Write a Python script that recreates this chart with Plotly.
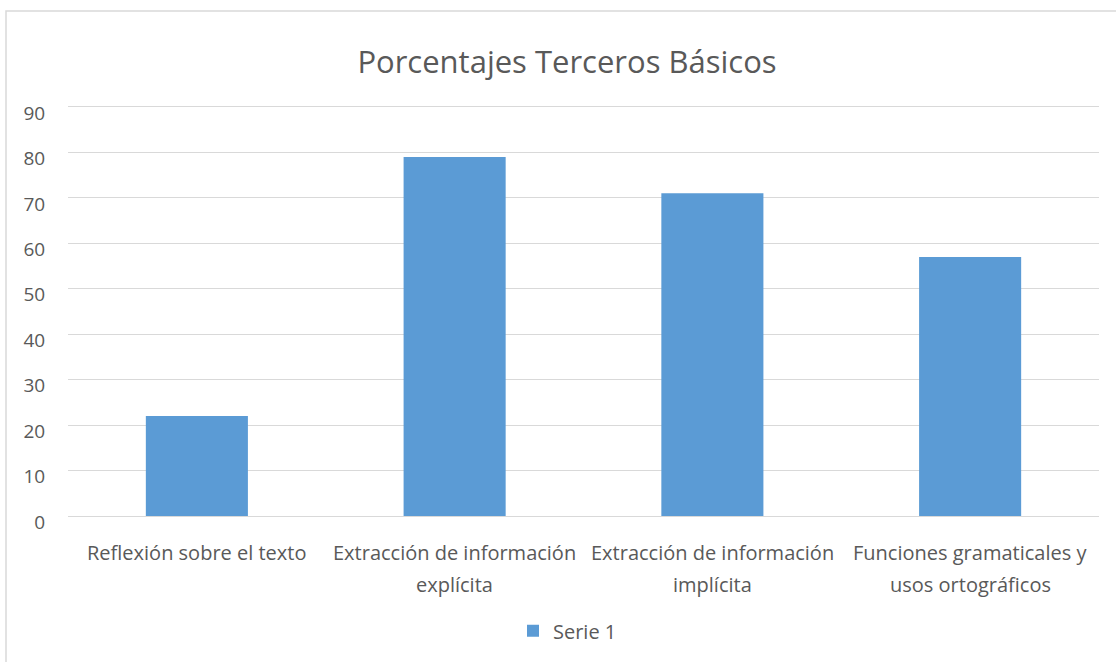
import plotly.graph_objects as go

categories = ["Reflexión sobre el texto", "Extracción de información explícita",
              "Extracción de información implícita", "Funciones gramaticales y usos ortográficos"]
line1 = ["Reflexión sobre el texto", "Extracción de información", "Extracción de información",
         "Funciones gramaticales y"]
line2 = ["", "explícita", "implícita", "usos ortográficos"]
values = [22, 79, 71, 57]
y_ticks = [0, 10, 20, 30, 40, 50, 60, 70, 80, 90]
series_name = "Serie 1"
title = "Porcentajes Terceros Básicos"

W, H = 1116, 662
# gridline 90 at y=107, gridline 0 at y=521 (46 px per 10 units); pad 5 px each side
PAD = 5
L, R, T, B = 68, 17, 107 - PAD, 141 - PAD
ph = H - T - B
pw = W - L - R
upp = 10 / 46.0  # units per pixel
y_range = [0 - PAD * upp, 90 + PAD * upp]
y0px = 521  # pixel of value 0

FONT = "Open Sans"
GRAY = "#595959"


def py(pix):
    """pixel row -> paper y"""
    return (H - B - pix) / ph


fig = go.Figure()
fig.add_trace(go.Bar(x=categories, y=values, name=series_name,
                     marker=dict(color="#5B9BD5", line=dict(width=0)),
                     showlegend=True))

annotations = []
for c, a, b in zip(categories, line1, line2):
    annotations.append(dict(x=c, xref="x", y=py(558), yref="paper",
                            text=a, showarrow=False, xanchor="center", yanchor="middle",
                            font=dict(family=FONT, size=20, color=GRAY)))
    if b:
        annotations.append(dict(x=c, xref="x", y=py(590), yref="paper",
                                text=b, showarrow=False, xanchor="center", yanchor="middle",
                                font=dict(family=FONT, size=20, color=GRAY)))

fig.update_layout(
    width=W, height=H,
    margin=dict(l=L, r=R, t=T, b=B, pad=0),
    paper_bgcolor="white", plot_bgcolor="white",
    title=dict(text=title, x=(567 - L) / pw, xref="paper", xanchor="center",
               y=1 - 62 / H, yref="container", yanchor="middle",
               font=dict(family=FONT, size=31, color=GRAY)),
    bargap=0.604,
    xaxis=dict(showticklabels=False, showgrid=False, zeroline=False, showline=False,
               ticks=""),
    yaxis=dict(range=y_range, tickvals=y_ticks,
               showgrid=True, gridcolor="#d9d9d9", gridwidth=1.2,
               zeroline=False, showline=False, ticks="outside", ticklen=18,
               tickcolor="rgba(0,0,0,0)", ticklabelshift=6,
               tickfont=dict(family=FONT, size=19, color=GRAY)),
    legend=dict(orientation="h", x=(513 - L) / pw, xanchor="left",
                y=py(637), yanchor="middle",
                font=dict(family=FONT, size=20, color=GRAY),
                itemwidth=30, bgcolor="rgba(0,0,0,0)"),
    annotations=annotations,
    shapes=[dict(type="rect", xref="paper", yref="paper",
                 x0=(6 - L) / pw, x1=(W + 20 - L) / pw,
                 y0=py(H + 20), y1=py(10),
                 line=dict(color="#d9d9d9", width=1.5), layer="below")],
)

fig.write_html("out.html", config={"displayModeBar": False},
               post_script="document.body.style.margin='0';")
